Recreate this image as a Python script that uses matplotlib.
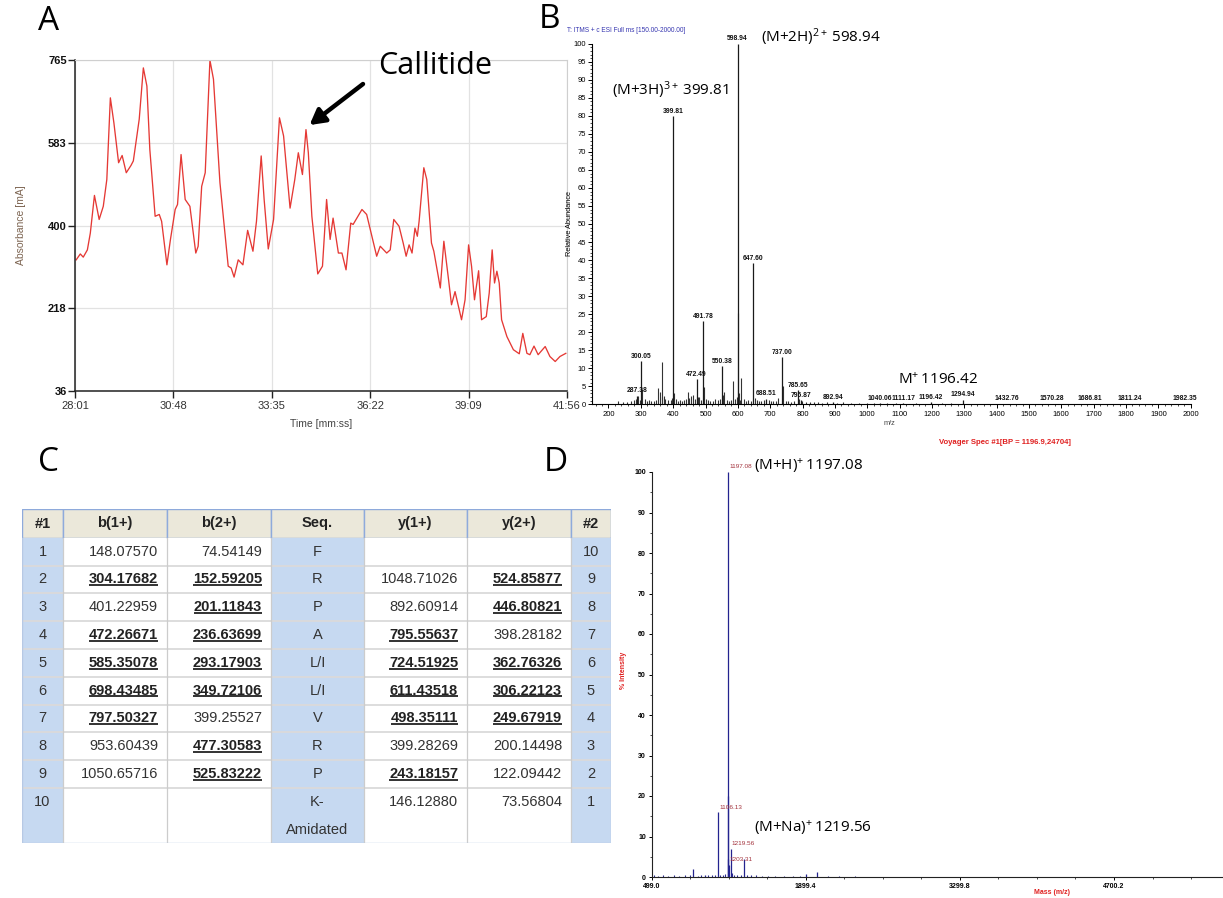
import matplotlib
matplotlib.use('Agg')
import matplotlib.pyplot as plt
import numpy as np
from matplotlib.ticker import MultipleLocator, FixedLocator
from matplotlib.patches import Rectangle

plt.rcParams['font.family'] = ['Liberation Sans', 'DejaVu Sans']
plt.rcParams['mathtext.fontset'] = 'custom'
plt.rcParams['mathtext.rm'] = 'Open Sans'
plt.rcParams['mathtext.it'] = 'Open Sans'

W, H = 1223, 898

# ---- panel A: HPLC trace (time in s, absorbance in mA)
hplc_time = [1683, 1690, 1695, 1702, 1707, 1714, 1722, 1729, 1735, 1741,
             1747, 1755, 1761, 1768, 1776, 1780, 1786, 1790, 1797, 1803,
             1808, 1817, 1824, 1828, 1837, 1843, 1851, 1855, 1861, 1868,
             1876, 1886, 1890, 1896, 1902, 1910, 1916, 1927, 1941, 1946,
             1951, 1958, 1966, 1974, 1983, 1989, 1997, 2002, 2009, 2018,
             2028, 2035, 2046, 2054, 2060, 2067, 2073, 2077, 2083, 2093,
             2101, 2108, 2114, 2119, 2128, 2134, 2141, 2149, 2153, 2168,
             2176, 2193, 2199, 2210, 2216, 2222, 2231, 2238, 2243, 2248,
             2253, 2258, 2262, 2265, 2273, 2278, 2286, 2290, 2301, 2307,
             2315, 2320, 2326, 2337, 2343, 2349, 2354, 2359, 2366, 2371,
             2379, 2384, 2389, 2393, 2397, 2401, 2405, 2414, 2425, 2435,
             2441, 2448, 2453, 2460, 2467, 2479, 2487, 2496, 2504, 2514]
hplc_abs = [325, 338, 331, 347, 384, 467, 414, 443, 502, 682,
            627, 539, 555, 517, 533, 543, 598, 635, 748, 708,
            568, 421, 425, 410, 314, 370, 436, 447, 557, 458,
            443, 340, 355, 487, 517, 765, 723, 495, 311, 307,
            287, 325, 314, 390, 344, 410, 554, 458, 349, 414,
            638, 598, 439, 502, 561, 513, 612, 561, 421, 294,
            311, 458, 370, 417, 340, 340, 303, 406, 403, 436,
            425, 333, 355, 340, 347, 414, 399, 362, 333, 358,
            340, 395, 377, 410, 528, 502, 362, 344, 263, 366,
            281, 226, 255, 193, 237, 358, 311, 237, 301, 193,
            200, 252, 347, 274, 300, 274, 193, 156, 127, 118,
            163, 119, 116, 135, 116, 134, 112, 101, 112, 119]
hplc_xticks = [1681, 1848, 2015, 2182, 2349, 2516]
hplc_yticks = [36, 218, 400, 583, 765]
callitide_peak = (2073, 612)

# ---- panel B: ESI spectrum
esi_label_mz = [287.38, 300.05, 399.81, 472.49, 491.78, 550.38, 598.94, 647.60,
                688.51, 737.00, 785.65, 795.87, 892.94, 1040.06, 1111.17, 1196.42,
                1294.94, 1432.76, 1570.28, 1686.81, 1811.24, 1982.35]
esi_label_int = [2.4, 12.0, 80.0, 7.0, 23.0, 10.5, 100.0, 39.2,
                 1.6, 13.0, 4.0, 1.2, 0.6, 0.3, 0.4, 0.6,
                 1.3, 0.2, 0.2, 0.2, 0.2, 0.2]
esi_other_mz = [229, 245, 258, 270, 280, 284, 292, 296, 305, 312, 318, 325, 333, 341,
                348, 353, 358, 364, 367, 371, 376, 384, 392, 396, 403, 408, 415, 422,
                428, 435, 441, 447, 450, 455, 460, 466, 476, 481, 486, 495, 500, 507,
                514, 522, 530, 538, 545, 553, 558, 565, 572, 578, 585, 592, 596, 600,
                603, 607, 611, 618, 625, 632, 640, 652, 658, 664, 672, 680, 695, 703,
                710, 718, 724, 740, 748, 756, 765, 775, 789, 799, 810, 822, 835, 848,
                860, 875, 905, 925, 950, 975, 1000, 1020, 1060, 1090, 1150, 1230, 1260,
                1330, 1400, 1500, 1650, 1900]
esi_other_int = [0.8, 0.5, 0.6, 0.9, 1.2, 1.6, 2.2, 1.2, 4.3, 1.5, 0.8, 1.3, 1.0, 0.9,
                 1.2, 4.6, 3.5, 2.0, 11.8, 2.2, 1.5, 1.3, 1.2, 1.8, 3.1, 1.6, 1.0, 1.1,
                 0.9, 1.3, 1.6, 3.4, 1.8, 2.4, 2.6, 1.4, 1.9, 2.1, 1.2, 4.8, 1.6, 1.2,
                 1.0, 1.0, 1.4, 1.1, 1.6, 2.6, 3.5, 1.2, 1.0, 1.3, 6.6, 1.4, 2.0, 25.4,
                 3.0, 1.3, 7.4, 1.5, 1.0, 1.3, 1.0, 1.8, 1.2, 1.0, 0.9, 1.1, 1.3, 1.0,
                 0.8, 1.0, 1.8, 5.0, 1.0, 0.8, 0.7, 0.8, 1.6, 0.9, 0.6, 0.5, 0.6, 0.5,
                 0.4, 0.5, 0.4, 0.5, 0.4, 0.3, 0.4, 0.3, 0.3, 0.3, 0.3, 0.3, 0.3,
                 0.2, 0.2, 0.2, 0.2, 0.2]

# ---- panel C: fragment table
no1 = ['1', '2', '3', '4', '5', '6', '7', '8', '9', '10']
b1 = ['148.07570', '304.17682', '401.22959', '472.26671', '585.35078',
      '698.43485', '797.50327', '953.60439', '1050.65716', '']
b2 = ['74.54149', '152.59205', '201.11843', '236.63699', '293.17903',
      '349.72106', '399.25527', '477.30583', '525.83222', '']
seq = ['F', 'R', 'P', 'A', 'L/I', 'L/I', 'V', 'R', 'P', 'K-\nAmidated']
y1 = ['', '1048.71026', '892.60914', '795.55637', '724.51925',
      '611.43518', '498.35111', '399.28269', '243.18157', '146.12880']
y2 = ['', '524.85877', '446.80821', '398.28182', '362.76326',
      '306.22123', '249.67919', '200.14498', '122.09442', '73.56804']
no2 = ['10', '9', '8', '7', '6', '5', '4', '3', '2', '1']
b1_seen = [0, 1, 0, 1, 1, 1, 1, 0, 0, 0]
b2_seen = [0, 1, 1, 1, 1, 1, 0, 1, 1, 0]
y1_seen = [0, 0, 0, 1, 1, 1, 1, 0, 1, 0]
y2_seen = [0, 1, 1, 0, 1, 1, 1, 0, 0, 0]
headers = ['#1', 'b(1+)', 'b(2+)', 'Seq.', 'y(1+)', 'y(2+)', '#2']

# ---- panel D: MALDI spectrum
maldi_mz = [880, 985, 1106.13, 1190, 1197.08, 1198.1, 1203.31, 1219.56, 1339, 1900, 2000]
maldi_int = [2.0, 0.5, 16.0, 4.5, 100.0, 20.0, 3.0, 7.0, 4.5, 0.8, 1.2]
maldi_noise_mz = [520, 560, 600, 650, 700, 750, 800, 850, 920, 950, 1010, 1050, 1080,
                  1120, 1150, 1170, 1230, 1250, 1280, 1310, 1370, 1400, 1450, 1500,
                  1560, 1620, 1700, 1780, 1850, 2100, 2200, 2350]
maldi_noise_int = [0.4, 0.3, 0.4, 0.3, 0.4, 0.3, 0.5, 0.4, 0.3, 0.4, 0.6, 0.4, 0.5,
                   0.5, 0.6, 0.8, 0.9, 0.6, 0.5, 0.4, 0.5, 0.4, 0.4, 0.3,
                   0.3, 0.3, 0.3, 0.3, 0.3, 0.3, 0.2, 0.2]
maldi_labels = ['1197.08', '1106.13', '1219.56', '1203.31']
maldi_xticks = [499.0, 1899.4, 3299.8, 4700.2]


def box(l, t, r, b):
    return [l / W, 1 - b / H, (r - l) / W, (b - t) / H]


fig = plt.figure(figsize=(W / 100, H / 100), dpi=100)

lab_font = dict(family=['Open Sans', 'DejaVu Sans'], fontsize=24, color='black')
fig.text(49 / W, 1 - 22 / H, 'A', ha='center', va='center', **lab_font)
fig.text(550 / W, 1 - 20 / H, 'B', ha='center', va='center', **lab_font)
fig.text(48 / W, 1 - 463 / H, 'C', ha='center', va='center', **lab_font)
fig.text(556 / W, 1 - 463 / H, 'D', ha='center', va='center', **lab_font)

# ================= A =================
axA = fig.add_axes(box(75, 59.5, 567, 391))
axA.plot(hplc_time, hplc_abs, color='#e53935', lw=0.95)
axA.set_xlim(1681, 2516)
axA.set_ylim(36, 766.5)
axA.set_xticks(hplc_xticks)
axA.set_xticklabels(['%d:%02d' % (t // 60, t % 60) for t in hplc_xticks])
axA.set_yticks(hplc_yticks)
axA.grid(True, color='#e2e2e2', lw=0.9)
axA.set_axisbelow(True)
for s in ['top', 'right']:
    axA.spines[s].set_color('#cfcfcf')
for s in ['left', 'bottom']:
    axA.spines[s].set_color('#222222')
    axA.spines[s].set_linewidth(1.1)
axA.tick_params(axis='both', direction='out', length=5, width=1, color='#222222')
axA.tick_params(axis='x', labelsize=8, labelcolor='#333333', pad=2)
axA.tick_params(axis='y', labelsize=8, labelcolor='#111111', pad=1)
for t in axA.get_yticklabels():
    t.set_fontweight('bold')
axA.set_xlabel('Time [mm:ss]', fontsize=7.5, color='#444444', labelpad=6)
axA.set_ylabel('Absorbance [mA]', fontsize=7.5, color='#7d6552', labelpad=16)

fig.text(435 / W, 1 - 66 / H, 'Callitide', ha='center', va='center',
         family=['Open Sans', 'DejaVu Sans'], fontsize=22)
axA.annotate('', xy=(callitide_peak[0] + 6, callitide_peak[1] + 10), xycoords='data',
             xytext=(363 / W, 1 - 84 / H), textcoords='figure fraction',
             arrowprops=dict(arrowstyle='-|>,head_length=0.9,head_width=0.5',
                             lw=3.2, color='black', shrinkA=0, shrinkB=0))

# ================= B =================
axB = fig.add_axes(box(592.3, 43.7, 1190.7, 404.3))
axB.vlines(esi_other_mz, 0, esi_other_int, color='#333333', lw=0.8)
axB.vlines(esi_label_mz, 0, esi_label_int, color='#1a1a1a', lw=0.9)
for mz, h in zip(esi_label_mz, esi_label_int):
    axB.annotate('%.2f' % mz, xy=(mz, h), xytext=(0, 3.4), textcoords='offset points',
                 ha='center', va='center', fontsize=4.9, fontweight='bold',
                 color='#111111', annotation_clip=False)
axB.set_xlim(150, 2000)
axB.set_ylim(0, 100)
axB.xaxis.set_major_locator(FixedLocator(np.arange(200, 2001, 100)))
axB.xaxis.set_minor_locator(MultipleLocator(20))
axB.yaxis.set_major_locator(MultipleLocator(5))
axB.yaxis.set_minor_locator(MultipleLocator(1))
for s in ['top', 'right']:
    axB.spines[s].set_visible(False)
for s in ['left', 'bottom']:
    axB.spines[s].set_linewidth(0.8)
axB.tick_params(axis='both', which='major', direction='out', length=3, width=0.7,
                labelsize=5.5, pad=1.5)
axB.tick_params(axis='both', which='minor', direction='out', length=1.5, width=0.5)
axB.set_ylabel('Relative Abundance', fontsize=5.3, labelpad=0.5)
fig.text(889 / W, 1 - 423 / H, 'm/z', ha='center', va='center', fontsize=5.3, color='#444444')
fig.text(567 / W, 1 - 31 / H, 'T: ITMS + c ESI Full ms [150.00-2000.00]', ha='left',
         va='center', fontsize=4.7, color='#3535b0')
fig.text(1005 / W, 1 - 443 / H, 'Voyager Spec #1[BP = 1196.9,24704]', ha='center',
         va='center', fontsize=5.6, fontweight='bold', color='#e02020')

big = dict(ha='left', va='center', fontsize=11, family=['Open Sans', 'DejaVu Sans'])
fig.text(761 / W, 1 - 37 / H, r'(M+2H)$^{\mathrm{2+}}\,$598.94', **big)
fig.text(612 / W, 1 - 90 / H, r'(M+3H)$^{\mathrm{3+}}\,$399.81', **big)
fig.text(898 / W, 1 - 380 / H, r'M$^{\mathrm{+}}\,$1196.42', **big)

# ================= C =================
cols = [22, 63, 167, 271, 364, 467, 571, 611]
head_top, head_bot, row_h = 509.3, 537.7, 27.8
row_top = [head_bot + i * row_h for i in range(10)]
row_bot = row_top[1:] + [843.3]
axC = fig.add_axes(box(cols[0], head_top, cols[-1], row_bot[-1]))
axC.set_xlim(cols[0], cols[-1])
axC.set_ylim(row_bot[-1], head_top)
axC.axis('off')

blue, beige = '#c6d9f1', '#ebe8da'
for c in range(7):
    axC.add_patch(Rectangle((cols[c], head_top), cols[c + 1] - cols[c], head_bot - head_top,
                            facecolor=beige, edgecolor='#8eaadb', lw=1.0))
    axC.text((cols[c] + cols[c + 1]) / 2, (head_top + head_bot) / 2, headers[c],
             ha='center', va='center', fontsize=10.5, fontweight='bold', color='#222222')
    for r in range(10):
        fc = blue if c in (0, 3, 6) else 'white'
        axC.add_patch(Rectangle((cols[c], row_top[r]), cols[c + 1] - cols[c],
                                row_bot[r] - row_top[r], facecolor=fc, edgecolor='none'))
for r in range(1, 10):
    axC.plot([cols[0], cols[-1]], [row_top[r], row_top[r]], color='#dadada', lw=1.3)
for x in cols[1:-1]:
    axC.plot([x, x], [head_bot, row_bot[-1]], color='#cccccc', lw=0.9)
axC.plot([cols[0], cols[0], cols[-1], cols[-1]], [head_bot, row_bot[-1], row_bot[-1], head_bot],
         color='#b7c9e4', lw=1.0)

txt = dict(fontsize=10.5, color='#333333')
underlined = []
for r in range(10):
    yc = row_top[r] + row_h / 2
    axC.text((cols[0] + cols[1]) / 2, yc, no1[r], ha='center', va='center', **txt)
    axC.text((cols[6] + cols[7]) / 2, yc, no2[r], ha='center', va='center', **txt)
    for k, line in enumerate(seq[r].split('\n')):
        axC.text((cols[3] + cols[4]) / 2, yc + k * row_h, line, ha='center', va='center', **txt)
    for c, vals, seen in [(1, b1, b1_seen), (2, b2, b2_seen), (4, y1, y1_seen), (5, y2, y2_seen)]:
        if not vals[r]:
            continue
        if seen[r]:
            t = axC.text(cols[c + 1] - 9, yc, vals[r], ha='right', va='center',
                         fontsize=10.5, fontweight='bold', color='#222222')
            underlined.append(t)
        else:
            axC.text(cols[c + 1] - 9, yc, vals[r], ha='right', va='center', **txt)

# ================= D =================
axD = fig.add_axes(box(651.5, 472, 1223, 877))
axD.vlines(maldi_noise_mz, 0, maldi_noise_int, color='#2a2a90', lw=0.8)
axD.vlines(maldi_mz, 0, maldi_int, color='#23238f', lw=0.9)
for lab in maldi_labels:
    mz = float(lab)
    h = maldi_int[maldi_mz.index(mz)]
    axD.annotate(lab, xy=(mz, h), xytext=(0.5, 3.6), textcoords='offset points',
                 ha='left', va='center', fontsize=4.6, color='#a3323c', annotation_clip=False)
axD.set_xlim(499.0, 5690)
axD.set_ylim(0, 100)
axD.set_xticks(maldi_xticks)
axD.set_xticklabels(['%.1f' % v for v in maldi_xticks])
axD.xaxis.set_minor_locator(FixedLocator(np.arange(499.0, 5690, 350.1)))
axD.yaxis.set_major_locator(MultipleLocator(10))
axD.yaxis.set_minor_locator(MultipleLocator(5))
for s in ['top', 'right']:
    axD.spines[s].set_visible(False)
for s in ['left', 'bottom']:
    axD.spines[s].set_linewidth(0.8)
    axD.spines[s].set_color('#222222')
axD.tick_params(axis='both', which='major', direction='out', length=2.5, width=0.7,
                labelsize=5, pad=1.5)
axD.tick_params(axis='both', which='minor', direction='out', length=1.5, width=0.5)
for t in axD.get_yticklabels() + axD.get_xticklabels():
    t.set_fontweight('bold')
fig.text(623 / W, 1 - 670 / H, '% Intensity', rotation=90, ha='center', va='center',
         fontsize=5, fontweight='bold', color='#e02020')
fig.text(1052 / W, 1 - 893 / H, 'Mass (m/z)', ha='center', va='center',
         fontsize=5, fontweight='bold', color='#e02020')
fig.text(754 / W, 1 - 466 / H, r'(M+H)$^{\mathrm{+}}\,$1197.08', **big)
fig.text(754 / W, 1 - 828 / H, r'(M+Na)$^{\mathrm{+}}\,$1219.56', **big)

# underline the observed fragment ions
fig.canvas.draw()
rend = fig.canvas.get_renderer()
inv = axC.transData.inverted()
for t in underlined:
    bb = t.get_window_extent(rend)
    (x0, y0), (x1, _) = inv.transform([(bb.x0, bb.y0 + 1.2), (bb.x1, bb.y0)])
    axC.plot([x0, x1], [y0, y0], color='#222222', lw=1.3, solid_capstyle='butt')

fig.savefig('out.png', dpi=100)
